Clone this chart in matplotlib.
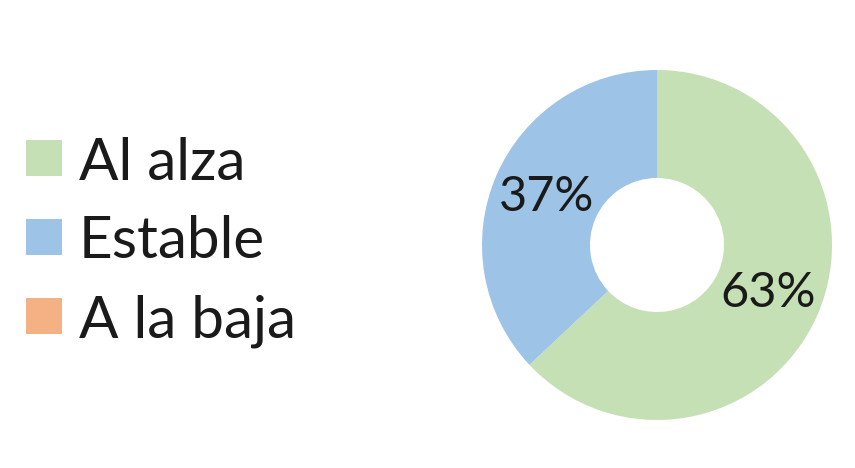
import matplotlib
matplotlib.use('Agg')
import matplotlib.pyplot as plt
from matplotlib.patches import Rectangle

# datos
labels = ['Al alza', 'Estable', 'A la baja']
values = [63, 37, 0]
colors = ['#C5E0B4', '#9DC3E6', '#F4B183']

plt.rcParams['font.family'] = ['Lato', 'DejaVu Sans']

fig = plt.figure(figsize=(8.55, 4.68), dpi=100)
W, H = 855.0, 468.0

# donut
cx, cy, r = 657, 245, 175
ax = fig.add_axes([(cx - r) / W, (H - cy - r) / H, 2 * r / W, 2 * r / H])
nz = [(v, c) for v, c in zip(values, colors) if v > 0]
wedges, texts, autotexts = ax.pie([v for v, c in nz], colors=[c for v, c in nz],
                                  startangle=90, counterclock=False, radius=1,
                                  autopct='%1.0f%%', pctdistance=0.69,
                                  wedgeprops=dict(width=0.617, linewidth=0),
                                  textprops=dict(fontsize=35, color='#1a1a1a'))
ax.set_xlim(-1, 1)
ax.set_ylim(-1, 1)
ax.set_aspect('equal')
ax.axis('off')

# leyenda
y0, dy = 158, 79
for i, (lab, col) in enumerate(zip(labels, colors)):
    yc = y0 + i * dy
    fig.patches.append(Rectangle((26 / W, (H - yc - 18) / H), 36 / W, 36 / H,
                                 transform=fig.transFigure, color=col, linewidth=0))
    fig.text(79 / W, (H - yc) / H, lab, fontsize=42, color='#1a1a1a',
             va='center_baseline', ha='left')

fig.savefig('out.png', dpi=100)
